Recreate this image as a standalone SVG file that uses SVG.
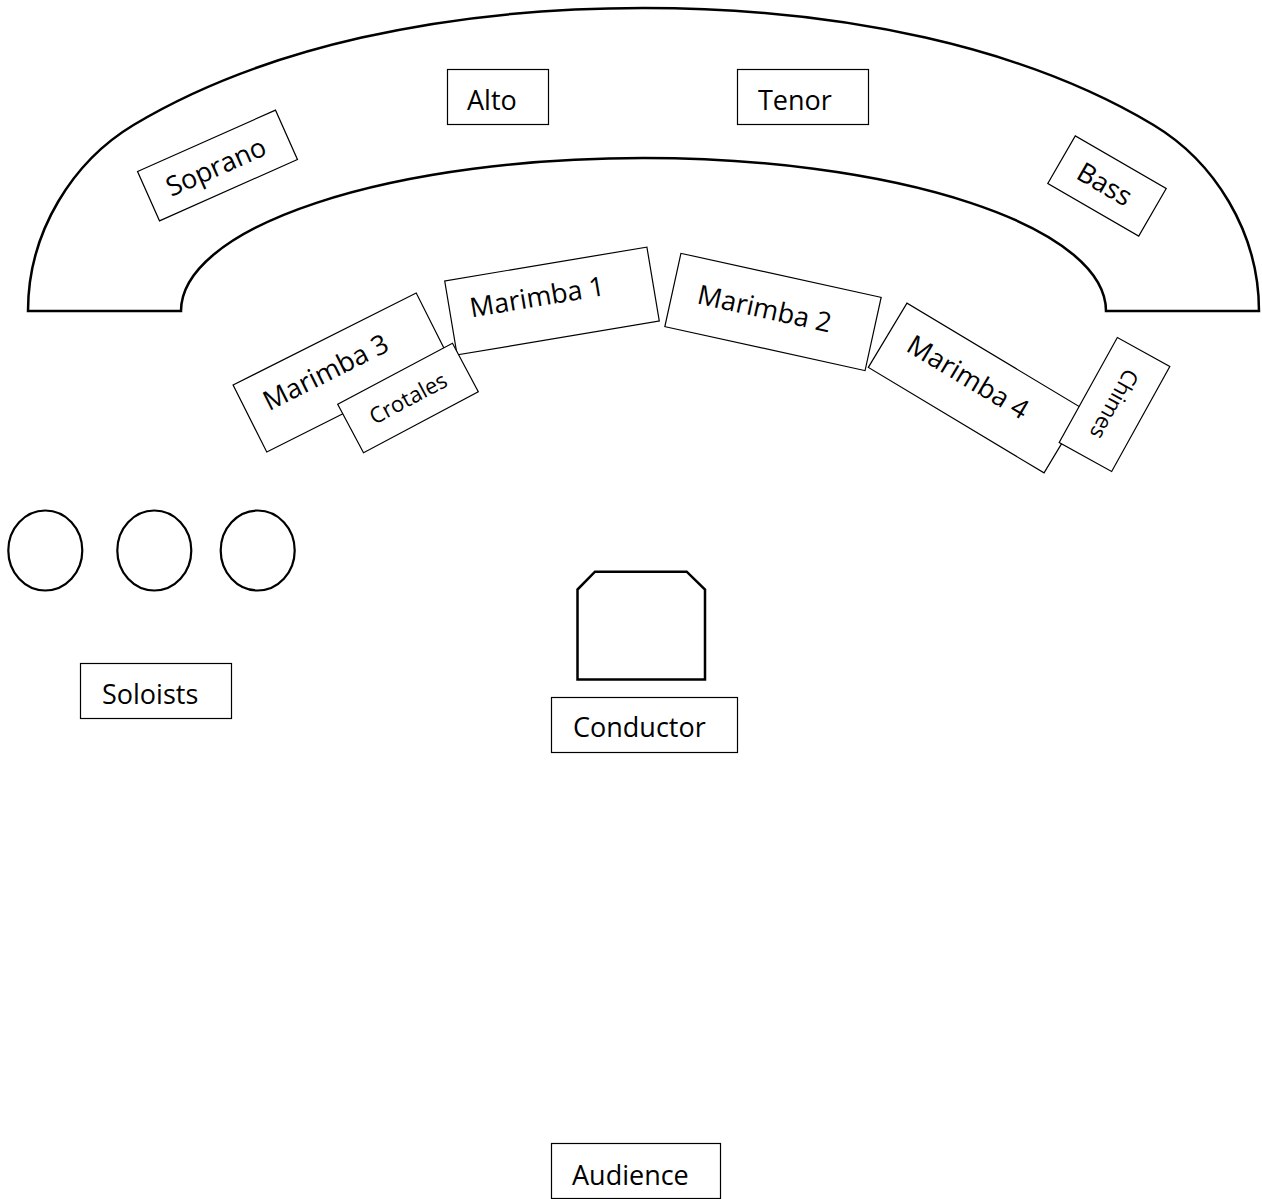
<svg xmlns="http://www.w3.org/2000/svg" width="1262" height="1199" viewBox="0 0 1262 1199">
  <style>
    .box { fill: #fff; stroke: #000; stroke-width: 1.2; }
    .lbl { font-family: "Open Sans", "Noto Sans", sans-serif; font-size: 27px; fill: #000; }
    .sm { font-size: 22px; }
    .mid { text-anchor: middle; }
    .thick { fill: #fff; stroke: #000; stroke-width: 2.5; stroke-linejoin: miter; }
    .seat { fill: #fff; stroke: #000; stroke-width: 2.2; }
  </style>
  <rect x="0" y="0" width="1262" height="1199" fill="#fff"/>

  <g id="choir-riser">
    <path class="thick" d="M28,311 C28,231 73.5,161 133.5,125 C262,47.9 443.5,8 643.5,8 C843.5,8 1025,47.9 1153.5,125 C1213.5,161 1259,231 1259,311 L1106,311 A462.5,153 0 0 0 181,311 Z"/>
  </g>

  <g id="soprano" transform="translate(217.5,165.5) rotate(-24)">
    <rect class="box" x="-75.5" y="-27" width="151" height="54"/>
    <text class="lbl mid" x="-2" y="10">Soprano</text>
  </g>
  <g id="alto">
    <rect class="box" x="447.5" y="69.5" width="101" height="55"/>
    <text class="lbl" x="467" y="110">Alto</text>
  </g>
  <g id="tenor">
    <rect class="box" x="737.5" y="69.5" width="131" height="55"/>
    <text class="lbl" x="758" y="110">Tenor</text>
  </g>
  <g id="bass" transform="translate(1107,186) rotate(30)">
    <rect class="box" x="-52.5" y="-27.5" width="105" height="55"/>
    <text class="lbl mid" x="-3" y="9">Bass</text>
  </g>

  <g id="marimba1" transform="translate(552,301) rotate(-9.5)">
    <rect class="box" x="-102.5" y="-37.5" width="205" height="75"/>
    <text class="lbl mid" x="-14" y="3">Marimba 1</text>
  </g>
  <g id="marimba2" transform="translate(773,312) rotate(12.4)">
    <rect class="box" x="-102.5" y="-37.5" width="205" height="75"/>
    <text class="lbl mid" x="-9" y="8">Marimba 2</text>
  </g>
  <g id="marimba3" transform="translate(341.5,372.5) rotate(-26.7)">
    <rect class="box" x="-102.5" y="-37.5" width="205" height="75"/>
    <text class="lbl mid" x="-14" y="2">Marimba 3</text>
  </g>
  <g id="crotales" transform="translate(408,398) rotate(-28)">
    <rect class="box" x="-65" y="-27.5" width="130" height="55"/>
    <text class="lbl sm mid" x="0" y="8">Crotales</text>
  </g>
  <g id="marimba4" transform="translate(975.5,388) rotate(31)">
    <rect class="box" x="-102.5" y="-37.5" width="205" height="75"/>
    <text class="lbl mid" x="-12" y="4">Marimba 4</text>
  </g>
  <g id="chimes" transform="translate(1114.5,404.5) rotate(119)">
    <rect class="box" x="-60" y="-30" width="120" height="60"/>
    <text class="lbl sm mid" x="0" y="8">Chimes</text>
  </g>

  <g id="soloist-seats">
    <ellipse class="seat" cx="45.3" cy="550.5" rx="37" ry="40"/>
    <ellipse class="seat" cx="154.3" cy="550.5" rx="37" ry="40"/>
    <ellipse class="seat" cx="257.7" cy="550.5" rx="37" ry="40"/>
  </g>
  <g id="soloists">
    <rect class="box" x="80.5" y="663.5" width="151" height="55"/>
    <text class="lbl" x="102" y="704">Soloists</text>
  </g>

  <g id="podium">
    <polygon class="thick" points="577.5,589.5 595,571.7 686.7,571.7 705,589.5 705,679.5 577.5,679.5"/>
  </g>
  <g id="conductor">
    <rect class="box" x="551.5" y="697.5" width="186" height="55"/>
    <text class="lbl" x="573" y="737">Conductor</text>
  </g>

  <g id="audience">
    <rect class="box" x="551.5" y="1143.5" width="169" height="55"/>
    <text class="lbl" x="572" y="1185">Audience</text>
  </g>
</svg>
